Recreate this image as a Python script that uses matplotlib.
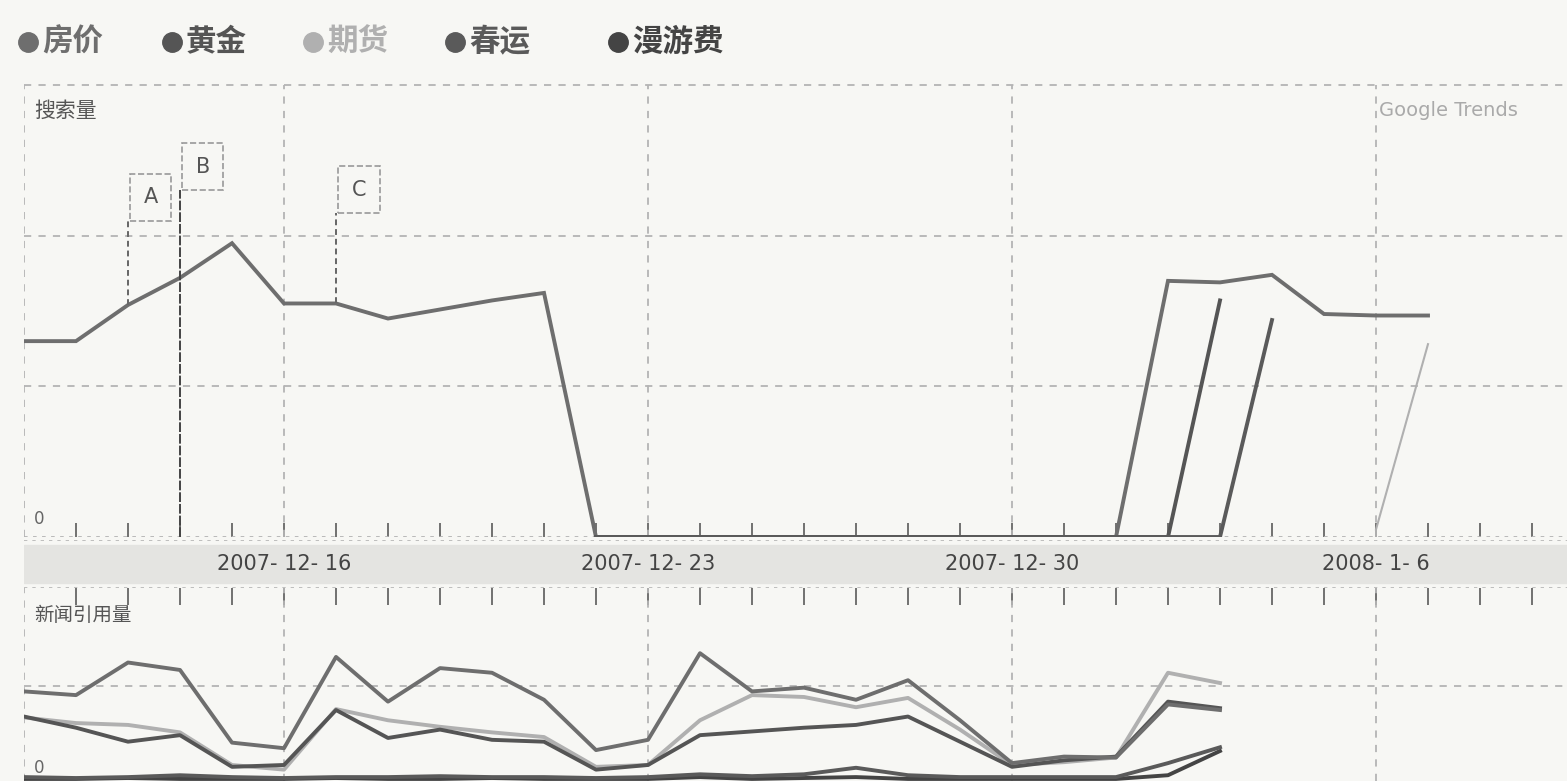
import numpy as np
import matplotlib
matplotlib.use("Agg")
import matplotlib.pyplot as plt

plt.rcParams['font.family'] = ['Noto Sans CJK SC', 'DejaVu Sans']

nan = np.nan

# legend
series_names = ['房价', '黄金', '期货', '春运', '漫游费']
series_colors = ['#6e6e6e', '#555555', '#b0b0b0', '#5a5a5a', '#444444']

# days: 2007-12-11 .. 2008-01-07 (index 0..27)
date_labels = ['2007- 12- 16', '2007- 12- 23', '2007- 12- 30', '2008- 1- 6']
date_idx = [5, 12, 19, 26]

# search volume (top panel)
search_fangjia = [1.30, 1.30, 1.54, 1.72, 1.95, 1.55, 1.55, 1.45, 1.51, 1.57, 1.62,
                  0, 0, 0, 0, 0, 0, 0, 0, 0, 0, 0,
                  1.70, 1.69, 1.74, 1.48, 1.47, 1.47]
search_huangjin = [nan] * 11 + [0] * 12 + [1.57] + [nan] * 4
search_chunyun = [nan] * 11 + [0] * 13 + [1.44] + [nan] * 3
search_qihuo = [nan] * 26 + [0.05, 1.28]

# news reference volume (bottom panel), 2007-12-11 .. 2008-01-03
news_fangjia = [0.94, 0.90, 1.25, 1.17, 0.39, 0.33, 1.31, 0.83, 1.19, 1.14, 0.85, 0.31,
                0.42, 1.35, 0.94, 0.98, 0.85, 1.06, 0.63, 0.17, 0.24, 0.23, 0.80, 0.74]
news_huangjin = [0.67, 0.55, 0.40, 0.47, 0.13, 0.15, 0.74, 0.44, 0.53, 0.42, 0.40, 0.10,
                 0.15, 0.47, 0.51, 0.55, 0.58, 0.67, 0.40, 0.13, 0.20, 0.24, 0.83, 0.76]
news_qihuo = [0.66, 0.60, 0.58, 0.50, 0.15, 0.10, 0.75, 0.63, 0.56, 0.50, 0.45, 0.13,
              0.15, 0.63, 0.90, 0.88, 0.77, 0.87, 0.53, 0.15, 0.18, 0.23, 1.14, 1.03]
news_chunyun = [0.02, 0.01, 0.02, 0.04, 0.02, 0.01, 0.02, 0.02, 0.03, 0.02, 0.02, 0.01,
                0.02, 0.05, 0.03, 0.05, 0.12, 0.04, 0.02, 0.02, 0.02, 0.02, 0.17, 0.34]
news_manyou = [0.0, 0.0, 0.01, 0.0, 0.0, 0.0, 0.01, 0.0, 0.0, 0.01, 0.0, 0.0,
               0.0, 0.02, 0.0, 0.01, 0.02, 0.0, 0.0, 0.0, 0.0, 0.0, 0.04, 0.30]

# annotations
events = ['A', 'B', 'C']
event_idx = [2, 3, 6]
event_box = [2.10, 2.30, 2.15]

W, H = 1567, 781
bg = '#f7f7f4'
grid_c = '#b4b4b4'
dash = (0, (4, 4))

fig = plt.figure(figsize=(W / 100, H / 100), dpi=100, facecolor=bg)


def box(x0, y0, x1, y1):
    return [x0 / W, 1 - y1 / H, (x1 - x0) / W, (y1 - y0) / H]


px_per_day = 52.0
px_per_unit = 151.0
xmax = (W - 24) / px_per_day

# ---- top panel ----
ax = fig.add_axes(box(24, 85, W, 537), facecolor='none')
ax.set_xlim(0, xmax)
ax.set_ylim(0, 3)
for s in ax.spines.values():
    s.set_visible(False)
ax.set_yticks([])
ax.set_xticks(range(1, 30))
ax.tick_params(axis='x', direction='in', length=10, width=1.3, color='#666',
               labelbottom=False)
for y in [1, 2, 3]:
    ax.axhline(y, color=grid_c, ls=dash, lw=1.3, clip_on=False)
ax.axhline(0, color=grid_c, ls=(0, (2, 3)), lw=1.3)
for i in [0] + date_idx:
    ax.axvline(i, color=grid_c, ls=dash, lw=1.3)

days = np.arange(28)
ax.plot(days, search_fangjia, color=series_colors[0], lw=2.8, solid_joinstyle='miter')
ax.plot(days, search_huangjin, color=series_colors[1], lw=2.8)
ax.plot(days, search_chunyun, color=series_colors[3], lw=2.8)
ax.plot(days, search_qihuo, color=series_colors[2], lw=1.5)

pad_px = 0.65 * 15 * 100 / 72
for lab, i, yb in zip(events, event_idx, event_box):
    y_line = 0 if lab == 'B' else search_fangjia[i]
    ax.plot([i, i], [y_line, yb], color='#666' if lab != 'B' else '#444',
            ls=(0, (3, 2)) if lab != 'B' else (0, (5, 1)), lw=1.4)
    ax.text(i + (pad_px + 2) / px_per_day, yb + pad_px / px_per_unit, lab,
            ha='left', va='bottom', fontsize=15, color='#555', family='DejaVu Sans',
            bbox=dict(boxstyle='square,pad=0.65', fc=bg, ec='#999', ls='--', lw=1.2))

ax.text(0.2, 2.83, '搜索量', fontsize=15, color='#555', va='center', ha='left')
ax.text(26.05, 2.83, 'Google Trends', fontsize=14, color='#aaa', va='center',
        ha='left', family='DejaVu Sans')
ax.text(0.3, 0.12, '0', fontsize=12, color='#666', va='center', ha='center',
        family='DejaVu Sans')

# ---- date band ----
axb = fig.add_axes(box(24, 540, W, 588), facecolor='#e8e8e5')
axb.set_xlim(0, xmax)
axb.set_ylim(0, 1)
axb.axis('off')
axb.axhline(1, color=grid_c, ls=(0, (2, 3)), lw=1.2)
axb.axhline(0, color=grid_c, ls=(0, (2, 3)), lw=1.2)
axb.add_patch(plt.Rectangle((0, 0.1), xmax, 0.8, color='#e4e4e1', zorder=0))
for lab, i in zip(date_labels, date_idx):
    axb.text(i, 0.5, lab, ha='center', va='center', fontsize=15, color='#444',
             family='DejaVu Sans')

# ---- bottom panel ----
ax2 = fig.add_axes(box(24, 588, W, H), facecolor='none')
ax2.set_xlim(0, xmax)
ax2.set_ylim(-0.022, 2.05)
for s in ax2.spines.values():
    s.set_visible(False)
ax2.set_yticks([])
ax2.set_xticks(range(1, 30))
ax2.tick_params(axis='x', direction='in', length=12, width=1.3, color='#666',
                bottom=False, top=True, labelbottom=False)
ax2.axhline(1, color=grid_c, ls=dash, lw=1.3)
for i in [0] + date_idx:
    ax2.axvline(i, color=grid_c, ls=dash, lw=1.3)

nd = np.arange(24)
ax2.plot(nd, news_manyou, color=series_colors[4], lw=2.8)
ax2.plot(nd, news_chunyun, color=series_colors[3], lw=2.8)
ax2.plot(nd, news_qihuo, color=series_colors[2], lw=2.8)
ax2.plot(nd, news_huangjin, color=series_colors[1], lw=2.8)
ax2.plot(nd, news_fangjia, color=series_colors[0], lw=2.8)

ax2.text(0.2, 1.75, '新闻引用量', fontsize=14, color='#555', va='center', ha='left')
ax2.text(0.3, 0.12, '0', fontsize=12, color='#666', va='center', ha='center',
         family='DejaVu Sans')

# ---- legend ----
axl = fig.add_axes([0, 0, 1, 1], facecolor='none')
axl.set_xlim(0, W)
axl.set_ylim(H, 0)
axl.axis('off')
leg_x = [28, 172, 313, 455, 618]
for name, c, x in zip(series_names, series_colors, leg_x):
    axl.plot([x], [42], 'o', ms=14, color=c)
    axl.text(x + 14, 42, name, fontsize=22, fontweight='bold', color=c,
             va='center', ha='left')

fig.savefig('out.png', dpi=100, facecolor=bg)
